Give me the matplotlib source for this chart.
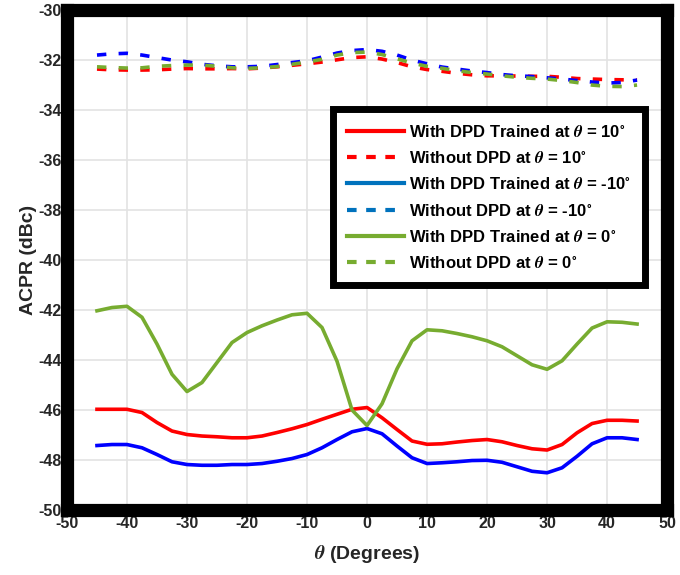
import matplotlib
matplotlib.use('Agg')
import matplotlib.pyplot as plt
from matplotlib.lines import Line2D

plt.rcParams['font.family'] = ['Liberation Sans', 'DejaVu Sans']
plt.rcParams['font.weight'] = 'bold'
plt.rcParams['mathtext.fontset'] = 'stix'
plt.rcParams['axes.unicode_minus'] = False

theta = [-45, -42.5, -40, -37.5, -35, -32.5, -30, -27.5, -25, -22.5, -20, -17.5,
         -15, -12.5, -10, -7.5, -5, -2.5, 0, 2.5, 5, 7.5, 10, 12.5, 15, 17.5,
         20, 22.5, 25, 27.5, 30, 32.5, 35, 37.5, 40, 42.5, 45]

dpd_p10 = [-45.97, -45.97, -45.97, -46.10, -46.50, -46.84, -46.98, -47.04, -47.07, -47.11,
           -47.11, -47.04, -46.90, -46.75, -46.58, -46.37, -46.17, -45.97, -45.90,
           -46.31, -46.78, -47.24, -47.37, -47.35, -47.28, -47.22, -47.18, -47.27, -47.42,
           -47.55, -47.60, -47.38, -46.91, -46.54, -46.41, -46.41, -46.44]
nodpd_p10 = [-32.36, -32.39, -32.40, -32.40, -32.39, -32.36, -32.34, -32.35, -32.35, -32.34,
             -32.35, -32.32, -32.27, -32.21, -32.15, -32.08, -31.99, -31.90, -31.87,
             -31.96, -32.10, -32.27, -32.38, -32.45, -32.53, -32.59, -32.63, -32.63, -32.64,
             -32.65, -32.65, -32.69, -32.74, -32.76, -32.78, -32.79, -32.80]
dpd_m10 = [-47.42, -47.38, -47.38, -47.51, -47.78, -48.07, -48.18, -48.21, -48.21, -48.18,
           -48.18, -48.14, -48.05, -47.94, -47.78, -47.51, -47.18, -46.87, -46.74,
           -46.95, -47.44, -47.91, -48.14, -48.11, -48.07, -48.02, -48.01, -48.09, -48.27,
           -48.45, -48.51, -48.31, -47.85, -47.35, -47.11, -47.11, -47.18]
nodpd_m10 = [-31.80, -31.75, -31.73, -31.80, -31.90, -32.00, -32.07, -32.17, -32.23, -32.27,
             -32.27, -32.25, -32.18, -32.10, -32.03, -31.88, -31.72, -31.62, -31.58,
             -31.65, -31.80, -32.00, -32.15, -32.28, -32.36, -32.44, -32.50, -32.58, -32.63,
             -32.66, -32.71, -32.76, -32.82, -32.88, -32.92, -32.90, -32.80]
dpd_0 = [-42.03, -41.90, -41.85, -42.29, -43.36, -44.57, -45.26, -44.90, -44.10, -43.30,
         -42.90, -42.63, -42.40, -42.19, -42.13, -42.70, -44.05, -46.00, -46.62,
         -45.75, -44.35, -43.23, -42.79, -42.83, -42.94, -43.07, -43.23, -43.47, -43.83,
         -44.19, -44.37, -44.03, -43.36, -42.72, -42.47, -42.49, -42.56]
nodpd_0 = [-32.27, -32.30, -32.32, -32.31, -32.25, -32.22, -32.20, -32.20, -32.25, -32.31,
           -32.33, -32.31, -32.26, -32.17, -32.08, -31.97, -31.80, -31.70, -31.68,
           -31.78, -31.95, -32.12, -32.25, -32.33, -32.43, -32.50, -32.56, -32.63, -32.69,
           -32.73, -32.76, -32.82, -32.90, -33.00, -33.05, -33.06, -33.00]

labels = [r'With DPD Trained at $\theta$ = 10$^{\circ}$',
          r'Without DPD at $\theta$ = 10$^{\circ}$',
          r'With DPD Trained at $\theta$ = -10$^{\circ}$',
          r'Without DPD at $\theta$ = -10$^{\circ}$',
          r'With DPD Trained at $\theta$ = 0$^{\circ}$',
          r'Without DPD at $\theta$ = 0$^{\circ}$']

xticks = [-50, -40, -30, -20, -10, 0, 10, 20, 30, 40, 50]
yticks = [-50, -48, -46, -44, -42, -40, -38, -36, -34, -32, -30]

RED = '#FF0000'
BLUE = '#0000FF'
LBLUE = '#0072BD'
GREEN = '#77AC30'

fig = plt.figure(figsize=(6.8, 5.75), dpi=100)
ax = fig.add_axes([0.0985, 0.113, 0.8825, 0.8695])

lw = 2.6
dash = (0, (2.6, 3.4))
series = [(dpd_p10, RED, '-'), (nodpd_p10, RED, dash),
          (dpd_m10, BLUE, '-'), (nodpd_m10, BLUE, dash),
          (dpd_0, GREEN, '-'), (nodpd_0, GREEN, dash)]
for vals, c, ls in series:
    ax.plot(theta, vals, color=c, lw=lw, linestyle=ls, zorder=3,
            solid_joinstyle='round', dash_joinstyle='round')

ax.set_xlim(-50, 50)
ax.set_ylim(-50, -30)
ax.set_xticks(xticks)
ax.set_yticks(yticks)
ax.grid(True, color='#e3e3e3', lw=1.2, zorder=0)
ax.set_axisbelow(True)
ax.tick_params(length=0, labelsize=11.5, labelcolor='#262626', pad=4)
for lab in ax.get_xticklabels() + ax.get_yticklabels():
    lab.set_fontweight('bold')
for s in ax.spines.values():
    s.set_linewidth(9.5)
    s.set_color('black')

ax.set_xlabel(r'$\theta$ (Degrees)', fontsize=14, fontweight='bold', color='#262626', labelpad=9)
ax.set_ylabel('ACPR (dBc)', fontsize=14, fontweight='bold', color='#262626', labelpad=1)

handles = [Line2D([], [], color=RED, lw=3, linestyle='-'),
           Line2D([], [], color=RED, lw=3, linestyle=(0, (2.3, 2.3))),
           Line2D([], [], color=LBLUE, lw=3, linestyle='-'),
           Line2D([], [], color=LBLUE, lw=3, linestyle=(0, (2.3, 2.3))),
           Line2D([], [], color=GREEN, lw=3, linestyle='-'),
           Line2D([], [], color=GREEN, lw=3, linestyle=(0, (2.3, 2.3)))]
leg = ax.legend(handles, labels, loc='upper right', bbox_to_anchor=(0.977, 0.818),
                prop={'weight': 'bold', 'size': 12}, handlelength=3.4, handletextpad=0.3,
                labelspacing=0.62, borderpad=0.85, fancybox=False, framealpha=1,
                edgecolor='black')
leg.get_frame().set_linewidth(5)

fig.savefig('out.png', dpi=100)
